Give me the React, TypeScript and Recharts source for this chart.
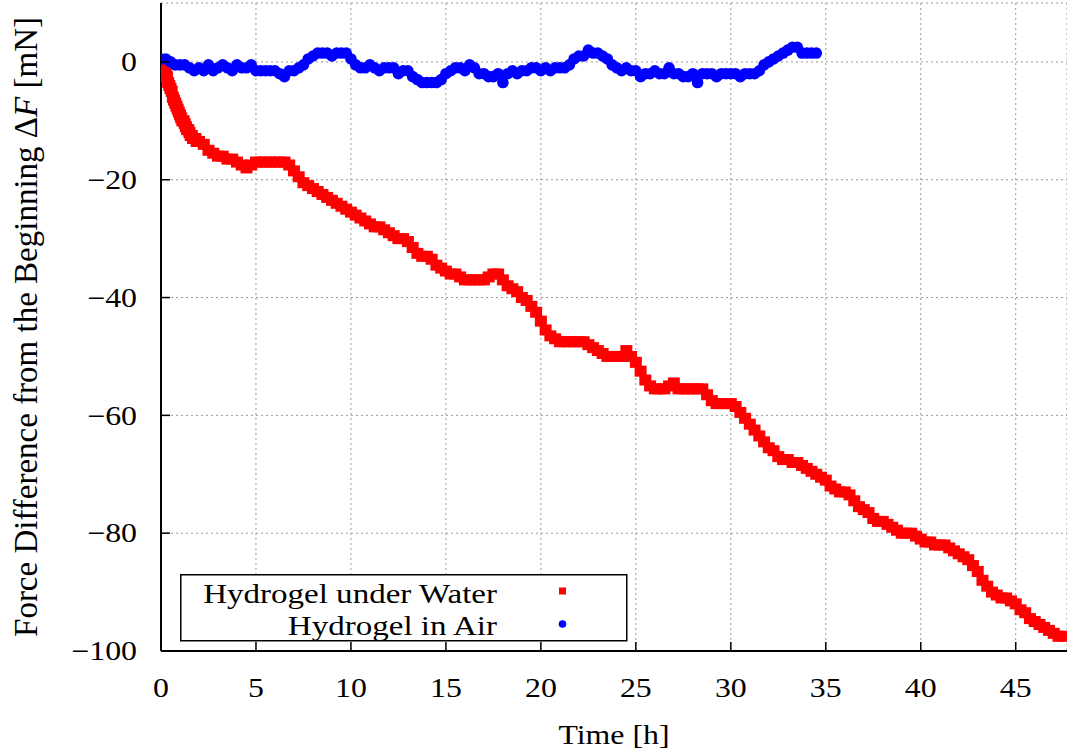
import React from 'react';
import { ScatterChart, Scatter, XAxis, YAxis, CartesianGrid, Legend, Label } from 'recharts';

// logger ran fast (every 3.75 min) for the first 2 h, then every 15 min
const FAST_STEP_H = 0.0625;
const FAST_SPAN_H = 2;
const STEP_H = 0.25;

// force change [mN], hydrogel under water, first 2 h (fast logging)
const underWaterStart = [
  0, -0.5, -1, -1.5, -2, -2.5, -3.5, -4,
  -4.5, -5, -6, -6.5, -7, -7.5, -8, -8.5,
  -9, -9.5, -10, -10, -10.5, -11, -11.5, -11.5,
  -12, -12.5, -12.5, -13, -13, -13, -13.5, -13.5,
];

// force change [mN], hydrogel under water, from 2 h on, one row per hour
const underWater = [
  -13.5, -14, -15, -15.5,
  -16, -16, -16.5, -16.5,
  -17, -17.5, -18, -17.5,
  -17, -17, -17, -17,
  -17, -17, -17, -17.5,
  -18.5, -19.5, -20.5, -21,
  -21.5, -22, -22.5, -23,
  -23.5, -24, -24.5, -25,
  -25.5, -26, -26.5, -27,
  -27.5, -28, -28, -28.5,
  -29, -29.5, -30, -30,
  -30.5, -31.5, -32.5, -33,
  -33, -33.5, -34.5, -35,
  -35.5, -36, -36, -36.5,
  -37, -37, -37, -37,
  -37, -36.5, -36, -36,
  -37, -38, -38.5, -39,
  -40, -40.5, -41.5, -42.5,
  -44, -45.5, -46.5, -47,
  -47.5, -47.5, -47.5, -47.5,
  -47.5, -47.5, -48, -48.5,
  -49, -49.5, -50, -50,
  -50, -50, -49, -50,
  -51, -52.5, -54, -55,
  -55.5, -55.5, -55.5, -55,
  -54.5, -55.5, -55.5, -55.5,
  -55.5, -55.5, -55.5, -56.5,
  -57.5, -58, -58, -58,
  -58, -58.5, -59.5, -60.5,
  -61.5, -62.5, -63.5, -64.5,
  -65.5, -66, -67, -67.5,
  -67.5, -68, -68, -68.5,
  -69, -69.5, -70, -70.5,
  -71, -72, -72.5, -73,
  -73, -73.5, -74.5, -75.5,
  -76, -76.5, -77.5, -78,
  -78, -78.5, -79, -79.5,
  -80, -80, -80, -80.5,
  -81, -81.5, -81.5, -82,
  -82, -82, -82.5, -83,
  -83.5, -84, -84.5, -85.5,
  -86.5, -88, -89, -90,
  -90.5, -91, -91, -91.5,
  -92, -93, -93.5, -94.5,
  -95, -95.5, -96, -96.5,
  -97, -97.5, -97.5,
];

// force change [mN], hydrogel in air, every 15 min, one row per hour
const inAir = [
  0.5, 0.5, 0, -0.5,
  -0.5, -0.5, -1, -1.5,
  -1, -1.5, -0.5, -1.5,
  -1, -0.5, -1, -1.5,
  -0.5, -1, -1, -0.5,
  -1.5, -1.5, -1.5, -1.5,
  -1.5, -2, -2.5, -1.5,
  -1.5, -1, -0.5, 0.5,
  1, 1.5, 1.5, 1.5,
  1, 1.5, 1.5, 1.5,
  0.5, -0.5, -1, -1,
  -0.5, -1, -1.5, -1,
  -1, -1, -2, -1.5,
  -1.5, -2.5, -3, -3.5,
  -3.5, -3.5, -3.5, -3,
  -2, -1.5, -1, -1,
  -1.5, -0.5, -1, -2,
  -2, -2.5, -2.5, -2,
  -3.5, -2, -1.5, -2,
  -1.5, -1.5, -1, -1,
  -1.5, -1, -1.5, -1,
  -1, -1, -0.5, 0.5,
  1, 1, 2, 1.5,
  1.5, 1, 0.5, -0.5,
  -1, -1.5, -1, -1.5,
  -1.5, -2.5, -2, -2,
  -1.5, -2, -2, -1,
  -2, -2, -2.5, -2.5,
  -2, -3.5, -2, -2,
  -2, -2.5, -2, -2,
  -2, -2, -2.5, -2,
  -2, -2, -1.5, -0.5,
  0, 0.5, 1, 1.5,
  2, 2.5, 2.5, 1.5,
  1.5, 1.5, 1.5,
];

const xTicks = [0, 5, 10, 15, 20, 25, 30, 35, 40, 45];
const yTicks = [-100, -80, -60, -40, -20, 0];

const waterData = [
  ...underWaterStart.map((v, i) => ({ t: i * FAST_STEP_H, v })),
  ...underWater.map((v, i) => ({ t: FAST_SPAN_H + i * STEP_H, v })),
];
const airData = inAir.map((v, i) => ({ t: i * STEP_H, v }));

const SERIF = '"Liberation Serif", "Times New Roman", serif';
const SX = 1.18; // source image is stretched sideways a bit

const fmt = (v: number) => (v < 0 ? `\u2212${Math.abs(v)}` : `${v}`);

const XTick = (props: any) => {
  const { x, y, payload } = props;
  return (
    <g>
      <line x1={x} y1={y} x2={x} y2={y - 9} stroke="#000" strokeWidth={1.5} />
      <text
        transform={`translate(${x},${y + 46}) scale(${SX},1)`}
        textAnchor="middle"
        fontFamily={SERIF}
        fontSize={27}
        fill="#000"
      >
        {fmt(payload.value)}
      </text>
    </g>
  );
};

const TopTick = (props: any) => {
  const { x, y } = props;
  return <line x1={x} y1={y} x2={x} y2={y + 9} stroke="#000" strokeWidth={1.5} />;
};

const YTick = (props: any) => {
  const { x, y, payload } = props;
  return (
    <g>
      <line x1={x} y1={y} x2={x + 9} y2={y} stroke="#000" strokeWidth={1.5} />
      <text
        transform={`translate(${x - 24},${y}) scale(${SX},1)`}
        textAnchor="end"
        dominantBaseline="central"
        fontFamily={SERIF}
        fontSize={27}
        fill="#000"
      >
        {fmt(payload.value)}
      </text>
    </g>
  );
};

const XLabel = (props: any) => {
  const { x, y, width } = props.viewBox;
  return (
    <text
      transform={`translate(${x + width / 2},${y + 93}) scale(${SX},1)`}
      textAnchor="middle"
      fontFamily={SERIF}
      fontSize={27}
      fill="#000"
    >
      Time [h]
    </text>
  );
};

const YLabel = (props: any) => {
  const { x, y, height } = props.viewBox;
  return (
    <text
      transform={`translate(${x + 37},${y + height / 2}) rotate(-90)`}
      textAnchor="middle"
      fontFamily={SERIF}
      fontSize={33}
      fill="#000"
    >
      Force Difference from the Beginning Δ<tspan fontStyle="italic">F</tspan> [mN]
    </text>
  );
};

const Square = (p: any) => <rect x={p.cx - 6} y={p.cy - 5.5} width={12} height={11} fill="#ff0000" />;
const Dot = (p: any) => <circle cx={p.cx} cy={p.cy} r={5.8} fill="#0000ff" />;

const LegendBox = () => (
  <svg width={448} height={68} style={{ display: 'block' }}>
    <rect x={0.75} y={0.75} width={446} height={66} fill="#fff" stroke="#000" strokeWidth={1.5} />
    <text
      transform={`translate(317,29) scale(${SX},1)`}
      textAnchor="end"
      fontFamily={SERIF}
      fontSize={28}
      fill="#000"
    >
      Hydrogel under Water
    </text>
    <rect x={379} y={13.5} width={7} height={7} fill="#ff0000" />
    <text
      transform={`translate(317,61) scale(${SX},1)`}
      textAnchor="end"
      fontFamily={SERIF}
      fontSize={28}
      fill="#000"
    >
      Hydrogel in Air
    </text>
    <circle cx={382.5} cy={50} r={3.8} fill="#0000ff" />
  </svg>
);

const App = () => {
  return (
    <div style={{ position: 'absolute', left: 0, top: 0 }}>
      <ScatterChart width={1067} height={753} margin={{ top: 3, right: 0, bottom: 0, left: 0 }}>
        <CartesianGrid stroke="#999" strokeDasharray="2 3" strokeWidth={1} />
        <XAxis
          type="number"
          dataKey="t"
          domain={[0, 47.7]}
          ticks={xTicks}
          allowDataOverflow
          height={102}
          tickSize={0}
          tickMargin={0}
          tickLine={false}
          tick={<XTick />}
          axisLine={{ stroke: '#000', strokeWidth: 2 }}
        >
          <Label content={<XLabel />} />
        </XAxis>
        <XAxis
          xAxisId="top"
          orientation="top"
          type="number"
          dataKey="t"
          domain={[0, 47.7]}
          ticks={xTicks}
          allowDataOverflow
          height={0}
          tickSize={0}
          tickMargin={0}
          tickLine={false}
          tick={<TopTick />}
          axisLine={{ stroke: '#000', strokeWidth: 2 }}
        />
        <YAxis
          type="number"
          dataKey="v"
          domain={[-100, 10]}
          ticks={yTicks}
          allowDataOverflow
          width={161}
          tickSize={0}
          tickMargin={0}
          tickLine={false}
          tick={<YTick />}
          axisLine={{ stroke: '#000', strokeWidth: 2 }}
        >
          <Label content={<YLabel />} />
        </YAxis>
        <Scatter name="Hydrogel under Water" data={waterData} shape={<Square />} isAnimationActive={false} />
        <Scatter name="Hydrogel in Air" data={airData} shape={<Dot />} isAnimationActive={false} />
        <Legend
          layout="vertical"
          align="center"
          verticalAlign="middle"
          content={<LegendBox />}
          wrapperStyle={{ position: 'absolute', left: 180, top: 574, width: 448, height: 68 }}
        />
      </ScatterChart>
    </div>
  );
};

export default App;
